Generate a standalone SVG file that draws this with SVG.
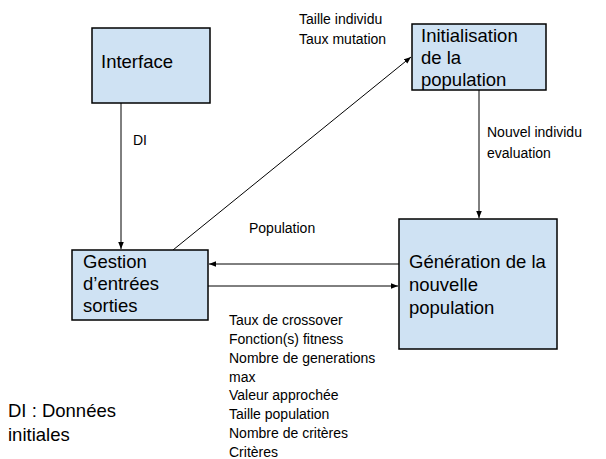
<svg xmlns="http://www.w3.org/2000/svg" width="606" height="459" viewBox="0 0 606 459">
<style>
.box{fill:#cfe2f3;stroke:#000;stroke-width:1.5}
.big{font-family:"Liberation Sans",Arial,sans-serif;font-size:18.5px;fill:#000}
.sm{font-family:"Liberation Sans",Arial,sans-serif;font-size:14px;fill:#000}
.c{stroke:#000;stroke-width:1;fill:none;marker-end:url(#ah)}
</style>
<defs>
<marker id="ah" viewBox="0 0 10 10" refX="10" refY="5" markerWidth="7" markerHeight="7" orient="auto" markerUnits="userSpaceOnUse">
<path d="M0,1 L10,5 L0,9 z" fill="#000"/>
</marker>
</defs>
<rect width="606" height="459" fill="#fff"/>
<g id="connectors">
<line class="c" x1="121" y1="103" x2="121" y2="249"/>
<line class="c" x1="173" y1="250" x2="411" y2="57"/>
<line class="c" x1="479" y1="90" x2="479" y2="218"/>
<line class="c" x1="399" y1="264" x2="209" y2="264"/>
<line class="c" x1="208" y1="286" x2="398" y2="286"/>
</g>
<g id="interface">
<rect class="box" x="92" y="28" width="118" height="75"/>
<text class="big" x="101" y="68">Interface</text>
</g>
<g id="initialisation">
<rect class="box" x="412" y="24" width="134" height="66"/>
<text class="big" x="421" y="42">Initialisation</text>
<text class="big" x="421" y="64">de la</text>
<text class="big" x="421" y="86">population</text>
</g>
<g id="gestion">
<rect class="box" x="72" y="250" width="136" height="70"/>
<text class="big" x="83" y="268">Gestion</text>
<text class="big" x="83" y="290">d’entrées</text>
<text class="big" x="83" y="312">sorties</text>
</g>
<g id="generation">
<rect class="box" x="399" y="219" width="158" height="130"/>
<text class="big" x="409" y="268">Génération de la</text>
<text class="big" x="409" y="291">nouvelle</text>
<text class="big" x="409" y="314">population</text>
</g>
<g id="labels">
<text class="sm" x="299" y="24">Taille individu</text>
<text class="sm" x="299" y="44">Taux mutation</text>
<text class="sm" x="133" y="145">DI</text>
<text class="sm" x="249" y="233">Population</text>
<text class="sm" x="487" y="137">Nouvel individu</text>
<text class="sm" x="487" y="158">evaluation</text>
<text class="sm" x="229" y="325">Taux de crossover</text>
<text class="sm" x="229" y="344">Fonction(s) fitness</text>
<text class="sm" x="229" y="363">Nombre de generations</text>
<text class="sm" x="229" y="382">max</text>
<text class="sm" x="229" y="400">Valeur approchée</text>
<text class="sm" x="229" y="419">Taille population</text>
<text class="sm" x="229" y="438">Nombre de critères</text>
<text class="sm" x="229" y="457">Critères</text>
<text class="big" x="8" y="417">DI : Données</text>
<text class="big" x="8" y="441">initiales</text>
</g>
</svg>
